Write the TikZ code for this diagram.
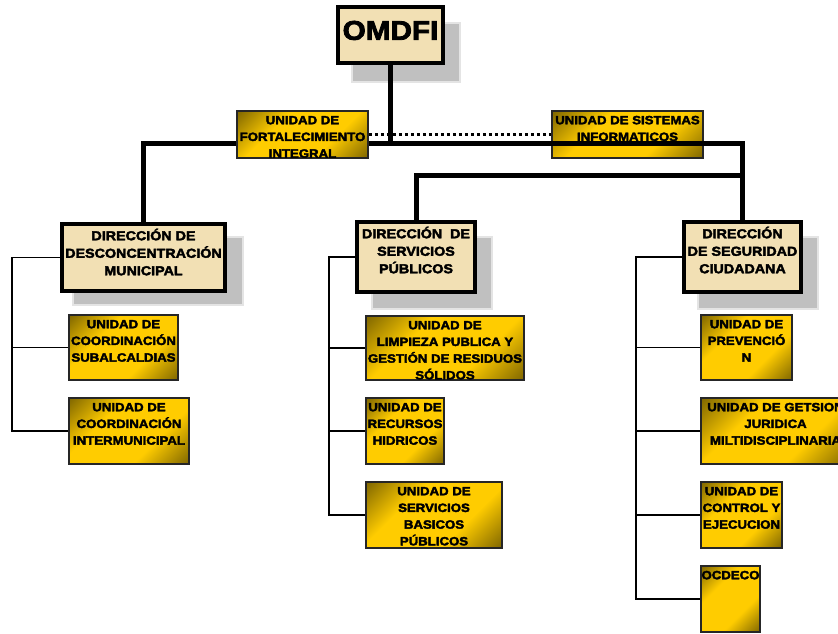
\documentclass[tikz,border=0pt]{standalone}
\usepackage{fontspec}
\setmainfont{Liberation Sans}
\newfontfamily\orgfont{Liberation Sans}[FakeStretch=1.1, BoldFeatures={FakeBold=3}]
\usetikzlibrary{fit}

\definecolor{gold}{RGB}{255,204,0}
\definecolor{golddark}{RGB}{112,90,0}
\definecolor{parchment}{RGB}{242,224,180}
\definecolor{shadowgray}{RGB}{192,192,192}
\definecolor{shadowedge}{RGB}{228,228,228}

% diagonal gold fill: dark corners top-left / bottom-right, bright middle
\pgfdeclarehorizontalshading{goldshade}{100bp}{color(0bp)=(golddark); color(12bp)=(golddark); color(36bp)=(gold); color(64bp)=(gold); color(88bp)=(golddark); color(100bp)=(golddark)}

\pgfdeclarelayer{shadow}
\pgfdeclarelayer{under}
\pgfdeclarelayer{links}
\pgfsetlayers{shadow,under,links,main}

\tikzset{
  trunk/.style={line width=5pt},
  staffdots/.style={line width=3pt, dash pattern=on 3pt off 3pt},
  branch/.style={line width=1.8pt},
  shadowbox/.style={fill=shadowgray, draw=shadowedge, line width=1.5pt, inner sep=0pt},
  topbox/.style={fill=parchment, draw=black, line width=4.5pt, inner sep=0pt},
  dirbox/.style={fill=parchment, draw=black, line width=3.5pt, inner sep=0pt},
  unitbox/.style={shading=goldshade, shading angle=-45, draw=black!85, line width=1.5pt, inner sep=0pt},
  boxlabel/.style={anchor=base, inner sep=0pt, font=\orgfont\bfseries},
}

% text set from the top of a box, cut off at the box edges
\newcommand\boxtext[4]{%
  \begin{scope}
    \clip (#1.south west) rectangle (#1.north east);
    \node[boxlabel] (#1-text) at ([yshift=-#2]#1.north)
      {\parbox[t]{260pt}{#3\selectfont\centering #4}};
  \end{scope}}
\newcommand\unittext[2]{\boxtext{#1}{14pt}{\fontsize{12}{16.7}}{#2}}
\newcommand\dirtext[2]{\boxtext{#1}{18pt}{\fontsize{13}{17.5}}{#2}}

\begin{document}
\begin{tikzpicture}[x=1pt, y={(0,-1pt)}]
\useasboundingbox (0,0) rectangle (838,633);

% ---- shadows
\begin{pgfonlayer}{shadow}
  \node[shadowbox, fit={(352,23) (460,82)}] (omdfi-sh) {};
  \node[shadowbox, fit={(73,237) (243,305)}] (dirA-sh) {};
  \node[shadowbox, fit={(372,237) (492,309)}] (dirB-sh) {};
  \node[shadowbox, fit={(698,237) (818,309)}] (dirC-sh) {};
\end{pgfonlayer}

% ---- top level
\node[topbox, fit={(338,7) (443,63)}] (omdfi) {};
\node[boxlabel, font=\orgfont\bfseries\fontsize{27}{30}\selectfont] (omdfi-text)
  at ([yshift=-35pt]omdfi.north) {OMDFI};

% ---- staff units
\node[unitbox, fit={(237,111) (368,158)}] (fort) {};
\unittext{fort}{UNIDAD DE\\FORTALECIMIENTO\\INTEGRAL}
\begin{pgfonlayer}{under}
  \node[unitbox, fit={(552,111) (703,158)}] (sist) {};
  \unittext{sist}{UNIDAD DE SISTEMAS\\INFORMATICOS}
\end{pgfonlayer}

% ---- directorates
\node[dirbox, fit={(62,224) (225,291)}] (dirA) {};
\dirtext{dirA}{DIRECCIÓN DE\\DESCONCENTRACIÓN\\MUNICIPAL}
\node[dirbox, fit={(357,222) (475,292)}] (dirB) {};
\dirtext{dirB}{DIRECCIÓN\ \ DE\\SERVICIOS\\PÚBLICOS}
\node[dirbox, fit={(684,222) (801,292)}] (dirC) {};
\dirtext{dirC}{DIRECCIÓN\\DE SEGURIDAD\\CIUDADANA}

% ---- units of each directorate
\node[unitbox, fit={(69,315) (178,380)}] (ua1) {};
\unittext{ua1}{UNIDAD DE\\COORDINACIÓN\\SUBALCALDIAS}
\node[unitbox, fit={(69,398) (189,464)}] (ua2) {};
\unittext{ua2}{UNIDAD DE\\COORDINACIÓN\\INTERMUNICIPAL}

\node[unitbox, fit={(366,316) (524,380)}] (ub1) {};
\unittext{ub1}{UNIDAD DE\\LIMPIEZA PUBLICA Y\\GESTIÓN DE RESIDUOS\\SÓLIDOS}
\node[unitbox, fit={(366,398) (444,464)}] (ub2) {};
\unittext{ub2}{UNIDAD DE\\RECURSOS\\HIDRICOS}
\node[unitbox, fit={(366,482) (502,548)}] (ub3) {};
\unittext{ub3}{UNIDAD DE\\SERVICIOS\\BASICOS\\PÚBLICOS}

\node[unitbox, fit={(701,315) (792,380)}] (uc1) {};
\unittext{uc1}{UNIDAD DE\\PREVENCIÓ\\N}
\node[unitbox, fit={(701,398) (850,464)}] (uc2) {};
\unittext{uc2}{UNIDAD DE GETSION\\JURIDICA\\MILTIDISCIPLINARIA}
\node[unitbox, fit={(701,482) (782,548)}] (uc3) {};
\unittext{uc3}{UNIDAD DE\\CONTROL Y\\EJECUCION}
\node[unitbox, fit={(701,566) (760,632)}] (uc4) {};
\unittext{uc4}{OCDECO}

% ---- connectors
\coordinate (hub) at (390.5,143);
\coordinate (mid) at (742.5,175);
\coordinate (spineA) at (12,300);
\coordinate (spineB) at (329,300);
\coordinate (spineC) at (636,300);

\begin{pgfonlayer}{links}
  \draw[trunk] (omdfi.south) -- (hub);
  \draw[trunk] (hub) -| (dirA.north);
  \draw[trunk] (hub) -| (dirC.north);
  \draw[trunk] (mid) -| (dirB.north);
  \draw[staffdots] (fort.east) -- (sist.west);

  \draw[branch] (dirA.west) -| (spineA |- ua2.west) -- (ua2.west);
  \draw[branch] (spineA |- ua1.west) -- (ua1.west);

  \draw[branch] (dirB.west) -| (spineB |- ub3.west) -- (ub3.west);
  \draw[branch] (spineB |- ub1.west) -- (ub1.west);
  \draw[branch] (spineB |- ub2.west) -- (ub2.west);

  \draw[branch] (dirC.west) -| (spineC |- uc4.west) -- (uc4.west);
  \draw[branch] (spineC |- uc1.west) -- (uc1.west);
  \draw[branch] (spineC |- uc2.west) -- (uc2.west);
  \draw[branch] (spineC |- uc3.west) -- (uc3.west);
\end{pgfonlayer}
\end{tikzpicture}
\end{document}
